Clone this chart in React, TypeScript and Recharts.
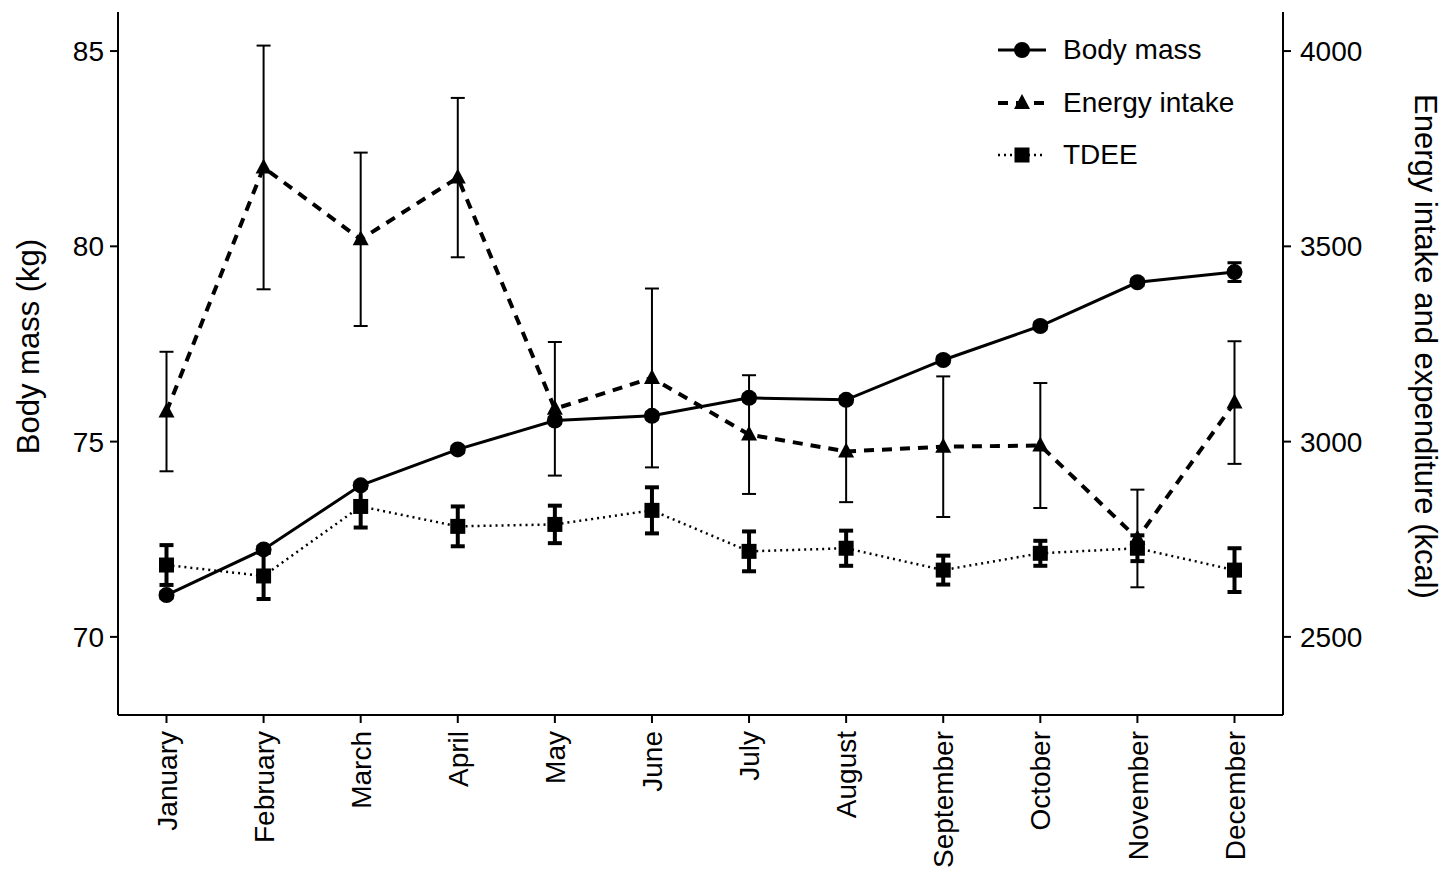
import React from 'react';
import { LineChart, Line, XAxis, YAxis, ErrorBar, Legend, Label } from 'recharts';

const FONT = '"Liberation Sans", Arial, sans-serif';

// monthly values (mean ± error)
const months = [
    'January', 'February', 'March', 'April', 'May', 'June',
    'July', 'August', 'September', 'October', 'November', 'December',
];
const bodyMass = [71.07, 72.24, 73.88, 74.8, 75.54, 75.66, 76.12, 76.07, 77.09, 77.96, 79.08, 79.34];
const bodyMassErr = [0.08, 0.08, 0.08, 0.08, 0.08, 0.08, 0.08, 0.08, 0.08, 0.08, 0.08, 0.24];
const energyIntake = [3077, 3702, 3518, 3676, 3084, 3163, 3018, 2975, 2987, 2990, 2752, 3100];
const energyIntakeErr = [153, 312, 222, 204, 171, 229, 152, 130, 180, 160, 125, 157];
const tdee = [2684, 2656, 2834, 2783, 2788, 2824, 2719, 2727, 2671, 2714, 2727, 2671];
const tdeeErr = [51, 59, 54, 51, 48, 59, 51, 45, 37, 32, 33, 56];

const massTicks = [70, 75, 80, 85];
const kcalTicks = [2500, 3000, 3500, 4000];

const data = months.map((m, i) => ({
    month: m,
    mass: bodyMass[i],
    massErr: bodyMassErr[i],
    intake: energyIntake[i],
    intakeErr: energyIntakeErr[i],
    tdee: tdee[i],
    tdeeErr: tdeeErr[i],
}));

const CircleDot = (p: any) =>
    p.cx == null ? <g key={`c-${p.index}`} /> : <circle key={`c-${p.index}`} cx={p.cx} cy={p.cy} r={8} fill="#000" />;

const TriangleDot = (p: any) =>
    p.cx == null ? <g key={`t-${p.index}`} /> : (
        <polygon
            key={`t-${p.index}`}
            points={`${p.cx},${p.cy - 9} ${p.cx - 8},${p.cy + 6} ${p.cx + 8},${p.cy + 6}`}
            fill="#000"
        />
    );

const SquareDot = (p: any) =>
    p.cx == null ? <g key={`s-${p.index}`} /> : <rect key={`s-${p.index}`} x={p.cx - 7.5} y={p.cy - 7.5} width={15} height={15} fill="#000" />;

const MonthTick = ({ x, y, payload }: any) => (
    <g transform={`translate(${x},${y})`}>
        <text transform="rotate(-90)" textAnchor="end" dy="0.36em" fontSize={28} fill="#000" fontFamily={FONT}>
            {payload.value}
        </text>
    </g>
);

const legendRows = [
    { name: 'Body mass', dash: undefined, width: 3, marker: <circle cx={24} cy={15} r={8} fill="#000" /> },
    { name: 'Energy intake', dash: '10 8', width: 4, marker: <polygon points="24,6 16,21 32,21" fill="#000" /> },
    { name: 'TDEE', dash: '2 4', width: 2.5, marker: <rect x={16.5} y={7.5} width={15} height={15} fill="#000" /> },
];

const renderLegend = () => (
    <div style={{ fontFamily: FONT, fontSize: 28, color: '#000' }}>
        {legendRows.map(r => (
            <div key={r.name} style={{ display: 'flex', alignItems: 'center', height: 52.5 }}>
                <svg width={48} height={30} style={{ marginRight: 17 }}>
                    <line x1={0} y1={15} x2={48} y2={15} stroke="#000" strokeWidth={r.width} strokeDasharray={r.dash} />
                    {r.marker}
                </svg>
                <span>{r.name}</span>
            </div>
        ))}
    </div>
);

const axisTitle = (text: string, side: 'left' | 'right') => ({ viewBox }: any) => {
    const cx = side === 'left' ? viewBox.x + 28 : viewBox.x + 142;
    const cy = viewBox.y + viewBox.height / 2 - 17;
    return (
        <text
            x={cx}
            y={cy}
            transform={`rotate(${side === 'left' ? -90 : 90},${cx},${cy})`}
            textAnchor="middle"
            dominantBaseline="central"
            fontSize={31}
            fill="#000"
            fontFamily={FONT}
        >
            {text}
        </text>
    );
};

const tickStyle = { fontSize: 28, fill: '#000', fontFamily: FONT };

export default function App() {
    return (
        <div style={{ position: 'absolute', left: 0, top: 0, background: '#fff' }}>
            <LineChart width={1441} height={877} data={data} margin={{ top: 12, right: 0, bottom: 0, left: 0 }}>
                <XAxis
                    dataKey="month"
                    height={162}
                    padding={{ left: 48.5, right: 48.5 }}
                    interval={0}
                    axisLine={{ stroke: '#000', strokeWidth: 2 }}
                    tickLine={{ stroke: '#000', strokeWidth: 2 }}
                    tickSize={8}
                    tickMargin={8}
                    tick={<MonthTick />}
                />
                <YAxis
                    yAxisId="mass"
                    orientation="left"
                    width={118}
                    domain={[68, 86]}
                    ticks={massTicks}
                    allowDataOverflow
                    axisLine={{ stroke: '#000', strokeWidth: 2 }}
                    tickLine={{ stroke: '#000', strokeWidth: 2 }}
                    tickSize={8}
                    tickMargin={6}
                    tick={tickStyle}
                >
                    <Label content={axisTitle('Body mass (kg)', 'left')} />
                </YAxis>
                <YAxis
                    yAxisId="kcal"
                    orientation="right"
                    width={158}
                    domain={[2300, 4100]}
                    ticks={kcalTicks}
                    allowDataOverflow
                    axisLine={{ stroke: '#000', strokeWidth: 2 }}
                    tickLine={{ stroke: '#000', strokeWidth: 2 }}
                    tickSize={8}
                    tickMargin={9}
                    tick={tickStyle}
                >
                    <Label content={axisTitle('Energy intake and expenditure (kcal)', 'right')} />
                </YAxis>
                <Legend
                    layout="vertical"
                    align="center"
                    verticalAlign="middle"
                    content={renderLegend}
                    wrapperStyle={{ left: 998, top: 24, width: 300 }}
                />
                {/* TDEE */}
                <Line
                    yAxisId="kcal"
                    dataKey="tdee"
                    stroke="#000"
                    strokeWidth={2.5}
                    strokeDasharray="2 4"
                    dot={SquareDot}
                    activeDot={false}
                    isAnimationActive={false}
                >
                    <ErrorBar dataKey="tdeeErr" direction="y" width={7} stroke="#000" strokeWidth={4} isAnimationActive={false} />
                </Line>
                {/* Energy intake */}
                <Line
                    yAxisId="kcal"
                    dataKey="intake"
                    stroke="#000"
                    strokeWidth={4}
                    strokeDasharray="10 8"
                    dot={TriangleDot}
                    activeDot={false}
                    isAnimationActive={false}
                >
                    <ErrorBar dataKey="intakeErr" direction="y" width={7} stroke="#000" strokeWidth={2} isAnimationActive={false} />
                </Line>
                {/* Body mass */}
                <Line
                    yAxisId="mass"
                    dataKey="mass"
                    stroke="#000"
                    strokeWidth={3}
                    dot={CircleDot}
                    activeDot={false}
                    isAnimationActive={false}
                >
                    <ErrorBar dataKey="massErr" direction="y" width={7} stroke="#000" strokeWidth={3} isAnimationActive={false} />
                </Line>
            </LineChart>
        </div>
    );
}
